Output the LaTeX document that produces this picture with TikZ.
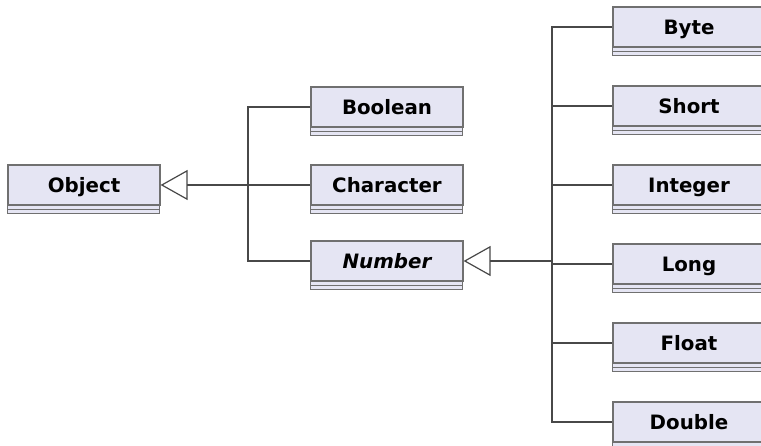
\documentclass[tikz,border=0pt]{standalone}
\usepackage{fontspec}
\setmainfont{DejaVu Sans}
\usetikzlibrary{arrows.meta}
\definecolor{boxfill}{RGB}{229,229,243}
\definecolor{boxline}{RGB}{112,112,112}
\definecolor{conn}{RGB}{72,72,72}
\begin{document}
\begin{tikzpicture}[x=1pt,y=1pt,
  cls/.style={draw=boxline, fill=boxfill, line width=1.2pt, minimum width=152pt, minimum height=40pt, inner sep=0pt,
    text height=14.4pt, text depth=0pt,
    font=\fontsize{19.8}{22}\selectfont\bfseries},
  comp/.style={draw=boxline, fill=boxfill, line width=1.2pt},
  link/.style={draw=conn, line width=1.2pt},
  gen/.style={link, -{Triangle[open, length=27pt, width=30pt, line width=1.2pt]}}]
\useasboundingbox (0,0) rectangle (761,-446);
\node[cls] (Object) at (84,-185) {Object};
\node[cls] (Boolean) at (387,-107) {Boolean};
\node[cls] (Character) at (387,-185) {Character};
\node[cls] (Number) at (387,-261) {\itshape Number};
\node[cls] (Byte) at (689,-27) {Byte};
\node[cls] (Short) at (689,-106) {Short};
\node[cls] (Integer) at (689,-185) {Integer};
\node[cls] (Long) at (689,-264) {Long};
\node[cls] (Float) at (689,-343) {Float};
\node[cls] (Double) at (689,-422) {Double};
\foreach \n in {Object,Boolean,Character,Number,Byte,Short,Integer,Long,Float,Double}{
  \draw[comp] (\n.south west) rectangle ++(152,-4);
  \draw[comp] ([yshift=-4pt]\n.south west) rectangle ++(152,-4);
}
\coordinate (j1) at (248,-185);
\coordinate (j2) at (552,-261);
\draw[gen] (j1) -- (Object.east);
\draw[link] (Boolean.west) -| (j1);
\draw[link] (Character.west) -- (j1);
\draw[link] (Number.west) -| (j1);
\draw[gen] (j2) -- (Number.east);
\foreach \n in {Byte,Short,Integer,Long,Float,Double}{
  \draw[link] (\n.west) -| (j2);
}
\end{tikzpicture}
\end{document}
